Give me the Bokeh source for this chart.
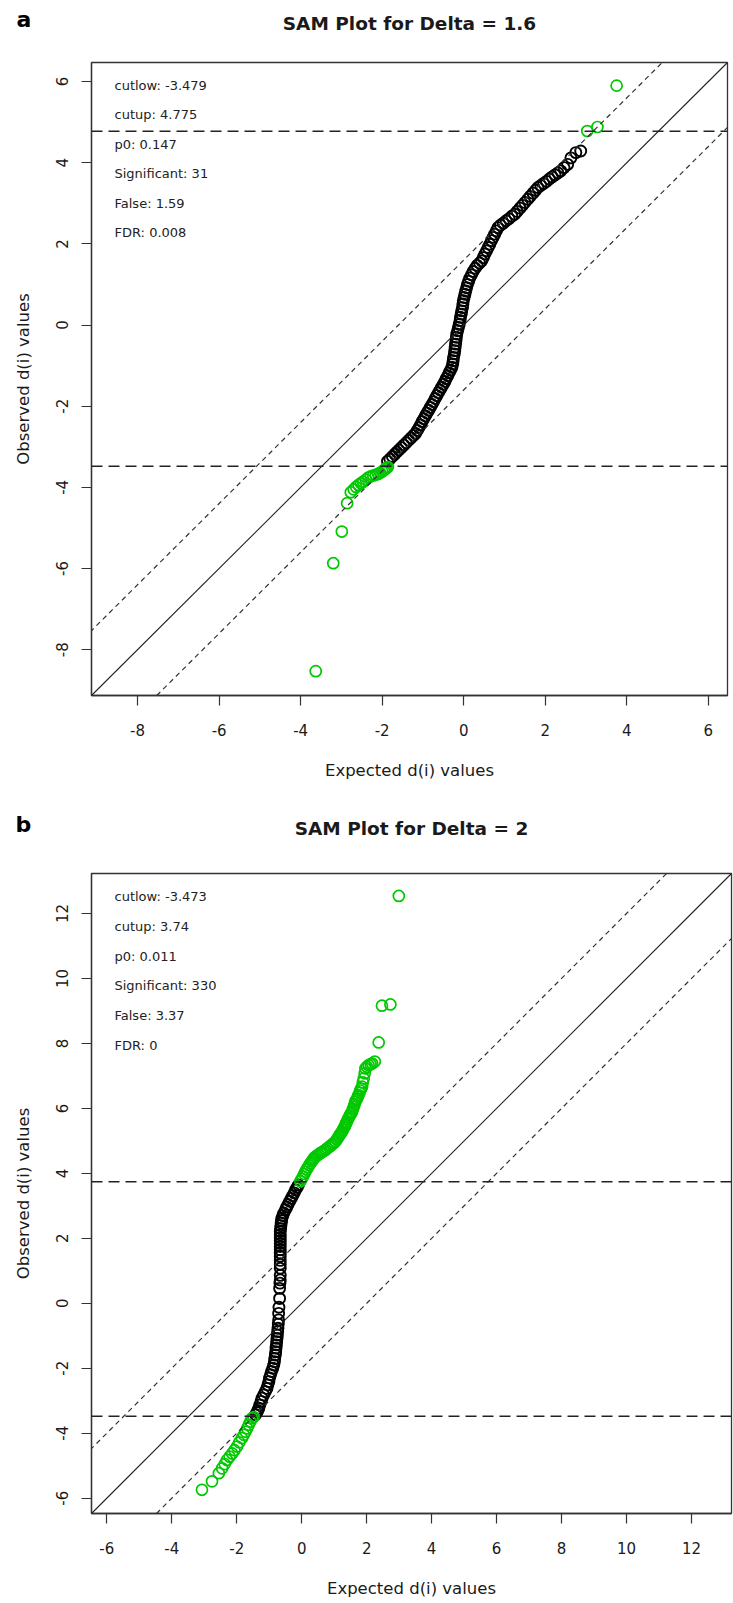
from bokeh.plotting import figure
from bokeh.models import Range1d, FixedTicker, Span, Slope, Label, Title
from bokeh.layouts import column
from bokeh.embed import file_html
from bokeh.resources import INLINE

# ---------------- Panel a data (Delta = 1.6) ----------------
a_black_x = [-1.87, -1.81, -1.75, -1.69, -1.64, -1.59, -1.53, -1.47, -1.41, -1.35, -1.29, -1.23,
             -1.18, -1.14, -1.10, -1.06, -1.02, -0.98, -0.94, -0.90, -0.86, -0.82, -0.78, -0.74,
             -0.70, -0.66, -0.62, -0.58, -0.54, -0.50, -0.46, -0.43, -0.39, -0.36, -0.32, -0.29,
             -0.27, -0.26, -0.25, -0.23, -0.22, -0.21, -0.20, -0.19, -0.18, -0.17, -0.15, -0.13,
             -0.11, -0.09, -0.08, -0.06, -0.05, -0.03, -0.02, -0.01, 0.01, 0.03, 0.05, 0.07,
             0.09, 0.12, 0.15, 0.19, 0.23, 0.28, 0.33, 0.39, 0.44, 0.48, 0.52, 0.56,
             0.60, 0.64, 0.68, 0.72, 0.76, 0.80, 0.84, 0.90, 0.97, 1.04, 1.11, 1.18,
             1.25, 1.31, 1.38, 1.44, 1.50, 1.57, 1.63, 1.70, 1.76, 1.82, 1.89, 1.96,
             2.03, 2.10, 2.17, 2.24, 2.31, 2.38, 2.46, 2.55, 2.63, 2.75, 2.87]
a_black_y = [-3.36, -3.30, -3.24, -3.18, -3.13, -3.08, -3.02, -2.96, -2.90, -2.84, -2.78, -2.72,
             -2.67, -2.60, -2.53, -2.46, -2.38, -2.31, -2.24, -2.17, -2.10, -2.03, -1.96, -1.89,
             -1.81, -1.74, -1.67, -1.60, -1.53, -1.46, -1.39, -1.32, -1.25, -1.18, -1.11, -1.04,
             -0.96, -0.88, -0.80, -0.71, -0.63, -0.55, -0.47, -0.38, -0.30, -0.22, -0.14, -0.06,
             0.02, 0.11, 0.19, 0.27, 0.35, 0.43, 0.52, 0.60, 0.68, 0.76, 0.84, 0.92,
             1.00, 1.08, 1.16, 1.24, 1.32, 1.40, 1.47, 1.53, 1.58, 1.66, 1.75, 1.83,
             1.91, 1.99, 2.08, 2.16, 2.24, 2.32, 2.40, 2.46, 2.51, 2.57, 2.62, 2.68,
             2.73, 2.80, 2.88, 2.95, 3.02, 3.10, 3.17, 3.25, 3.32, 3.39, 3.44, 3.49,
             3.54, 3.60, 3.65, 3.70, 3.75, 3.80, 3.88, 3.96, 4.12, 4.25, 4.29]
a_green_x = [-3.63, -3.20, -2.99, -2.86, -2.77, -2.70, -2.64, -2.58, -2.52, -2.47, -2.40, -2.34,
             -2.28, -2.22, -2.16, -2.10, -2.05, -2.00, -1.96, -1.92, -1.89, -1.86, 3.03, 3.28, 3.75]
a_green_y = [-8.53, -5.87, -5.09, -4.39, -4.12, -4.05, -3.99, -3.94, -3.90, -3.86, -3.81, -3.76,
             -3.73, -3.71, -3.69, -3.67, -3.64, -3.61, -3.58, -3.55, -3.52, -3.50, 4.78, 4.88, 5.90]
a_delta = 1.6
a_cutlow = -3.479
a_cutup = 4.775
a_p0 = "0.147"
a_significant = "31"
a_false = "1.59"
a_fdr = "0.008"
a_ticks = [-8, -6, -4, -2, 0, 2, 4, 6]
a_lim = (-9.13, 6.47)

# ---------------- Panel b data (Delta = 2) ----------------
b_black_x = [-1.42, -1.38, -1.35, -1.32, -1.29, -1.25, -1.22, -1.17, -1.12, -1.07, -1.04, -1.01,
             -0.99, -0.96, -0.93, -0.89, -0.86, -0.84, -0.83, -0.81, -0.80, -0.79, -0.78, -0.77,
             -0.76, -0.75, -0.74, -0.73, -0.72, -0.71, -0.71, -0.70, -0.68, -0.68, -0.67, -0.66,
             -0.66, -0.66, -0.66, -0.66, -0.66, -0.66, -0.66, -0.66, -0.66, -0.66, -0.66, -0.66,
             -0.66, -0.65, -0.64, -0.63, -0.62, -0.61, -0.58, -0.55, -0.50, -0.46, -0.42, -0.37,
             -0.32, -0.28, -0.23, -0.19, -0.14, -0.10]
b_black_y = [-3.43, -3.36, -3.30, -3.23, -3.13, -3.02, -2.92, -2.82, -2.72, -2.62, -2.51, -2.41,
             -2.30, -2.20, -2.10, -2.00, -1.90, -1.80, -1.70, -1.59, -1.49, -1.38, -1.28, -1.18,
             -1.08, -0.98, -0.87, -0.77, -0.64, -0.51, -0.31, -0.12, 0.15, 0.46, 0.62, 0.72,
             0.86, 1.08, 1.20, 1.32, 1.45, 1.55, 1.65, 1.75, 1.84, 1.93, 2.02, 2.11,
             2.21, 2.30, 2.39, 2.47, 2.55, 2.62, 2.70, 2.78, 2.88, 2.96, 3.04, 3.14,
             3.23, 3.31, 3.40, 3.49, 3.57, 3.64]
b_green_x = [-3.07, -2.76, -2.55, -2.45, -2.37, -2.30, -2.22, -2.14, -2.07, -1.99, -1.92, -1.84,
             -1.78, -1.73, -1.68, -1.63, -1.58, -1.53, -1.48,
             -0.04, 0.00, 0.04, 0.08, 0.11, 0.15, 0.19, 0.23, 0.27, 0.31, 0.35, 0.38,
             0.42, 0.47, 0.52, 0.57, 0.62, 0.68, 0.73, 0.79, 0.85, 0.90, 0.95, 1.00,
             1.04, 1.08, 1.12, 1.15, 1.18, 1.21, 1.24, 1.27, 1.30, 1.33, 1.35, 1.37,
             1.39, 1.42, 1.45, 1.48, 1.50, 1.53, 1.55, 1.58, 1.60, 1.63, 1.65, 1.68,
             1.70, 1.73, 1.75, 1.78, 1.80, 1.83, 1.86, 1.88, 1.91, 1.94, 1.96, 2.01,
             2.06, 2.12, 2.17, 2.25, 2.37, 2.47, 2.73, 2.99]
b_green_y = [-5.74, -5.48, -5.23, -5.08, -4.95, -4.82, -4.72, -4.62, -4.52, -4.41, -4.28, -4.15,
             -4.05, -3.95, -3.85, -3.74, -3.64, -3.54, -3.50,
             3.76, 3.83, 3.90, 3.98, 4.05, 4.12, 4.18, 4.25, 4.31, 4.37, 4.42, 4.47,
             4.51, 4.55, 4.58, 4.62, 4.65, 4.69, 4.72, 4.77, 4.82, 4.86, 4.90, 4.94,
             4.98, 5.04, 5.10, 5.15, 5.20, 5.24, 5.28, 5.34, 5.40, 5.45, 5.50, 5.55,
             5.59, 5.66, 5.72, 5.77, 5.82, 5.86, 5.90, 5.98, 6.05, 6.13, 6.21, 6.26,
             6.30, 6.36, 6.41, 6.48, 6.55, 6.61, 6.67, 6.80, 6.92, 7.08, 7.23, 7.28,
             7.33, 7.36, 7.38, 7.44, 8.03, 9.16, 9.20, 12.54]
b_delta = 2
b_cutlow = -3.473
b_cutup = 3.74
b_p0 = "0.011"
b_significant = "330"
b_false = "3.37"
b_fdr = "0"
b_ticks = [-6, -4, -2, 0, 2, 4, 6, 8, 10, 12]
b_lim = (-6.47, 13.23)

GREEN = "#00C800"
FONT = "DejaVu Sans"
INK = "#1a1a1a"


def base_panel(lim, ticks, fw, fh, left, right, top, bottom):
    p = figure(frame_width=fw, frame_height=fh, title=None,
               x_range=Range1d(*lim), y_range=Range1d(*lim),
               output_backend="svg", toolbar_location=None,
               min_border_left=left, min_border_right=right,
               min_border_top=top, min_border_bottom=bottom,
               x_axis_label="Expected d(i) values", y_axis_label="Observed d(i) values",
               background_fill_color="white", border_fill_color="white")
    p.xgrid.visible = False
    p.ygrid.visible = False
    p.outline_line_color = "#333333"
    p.outline_line_width = 1.3
    p.outline_line_alpha = 1.0
    for ax in (p.xaxis[0], p.yaxis[0]):
        ax.ticker = FixedTicker(ticks=ticks)
        ax.major_label_overrides = {t: str(t) for t in ticks}
        ax.axis_line_color = "#333333"
        ax.axis_line_width = 1.3
        ax.major_tick_out = 10
        ax.major_tick_in = 0
        ax.major_tick_line_color = "#333333"
        ax.major_tick_line_width = 1.2
        ax.minor_tick_line_color = None
        ax.major_label_text_font = FONT
        ax.major_label_text_font_size = "15px"
        ax.major_label_text_color = INK
        ax.axis_label_text_font = FONT
        ax.axis_label_text_font_size = "16.5px"
        ax.axis_label_text_font_style = "normal"
        ax.axis_label_text_color = INK
    p.xaxis.major_label_standoff = 18
    p.xaxis.axis_label_standoff = 22
    p.yaxis.major_label_standoff = 13
    p.yaxis.axis_label_standoff = 21
    p.yaxis.major_label_orientation = "parallel"
    return p


def add_content(p, bx, by, gx, gy, delta, cutlow, cutup, p0, sig, false_, fdr, fh, text_x, text_dy):
    p.add_layout(Slope(gradient=1, y_intercept=0, line_color="#222222", line_width=1.1))
    p.add_layout(Slope(gradient=1, y_intercept=delta, line_color="#333333",
                       line_width=1.2, line_dash="5 4"))
    p.add_layout(Slope(gradient=1, y_intercept=-delta, line_color="#333333",
                       line_width=1.2, line_dash="5 4"))
    p.add_layout(Span(location=cutup, dimension="width", line_color="#222222",
                      line_width=1.5, line_dash="11 6"))
    p.add_layout(Span(location=cutlow, dimension="width", line_color="#222222",
                      line_width=1.5, line_dash="11 6"))
    p.scatter(bx, by, marker="circle", size=11, fill_color=None,
              line_color="black", line_width=1.9)
    p.scatter(gx, gy, marker="circle", size=11, fill_color=None,
              line_color=GREEN, line_width=1.7)
    lines = ["cutlow:  %s" % cutlow, "cutup:  %s" % cutup, "p0:  %s" % p0,
             "Significant:  %s" % sig, "False:  %s" % false_, "FDR:  %s" % fdr]
    for i, s in enumerate(lines):
        p.add_layout(Label(x=text_x, y=fh - 23 - i * text_dy, x_units="screen", y_units="screen",
                           text=s, text_font=FONT, text_font_size="13px",
                           text_color="#222222", text_baseline="middle", text_align="left"))


def add_titles(p, title, letter, title_standoff, letter_standoff, letter_offset):
    # inner title: a second (empty) line makes the box tall so the text rides high
    p.add_layout(Title(text=title + "\n", align="center", vertical_align="bottom",
                       text_font=FONT, text_font_size="18.5px", text_font_style="bold",
                       text_color=INK, standoff=title_standoff), "above")
    # outer panel letter: a negative standoff pulls it down beside the title
    p.add_layout(Title(text=letter, align="left", offset=letter_offset, vertical_align="bottom",
                       text_font=FONT, text_font_size="22px", text_font_style="bold",
                       text_color="black", standoff=letter_standoff), "above")


# ---------------- Panel a ----------------
pa = base_panel(a_lim, a_ticks, 636, 633, 90, 7, 62, 95)
add_content(pa, a_black_x, a_black_y, a_green_x, a_green_y, a_delta, a_cutlow, a_cutup,
            a_p0, a_significant, a_false, a_fdr, 633, 23, 29.4)
add_titles(pa, "SAM Plot for Delta = 1.6", "a", 16, -59, -75)

# ---------------- Panel b ----------------
pb = base_panel(b_lim, b_ticks, 640, 640, 91, 2, 83, 90)
add_content(pb, b_black_x, b_black_y, b_green_x, b_green_y, b_delta, b_cutlow, b_cutup,
            b_p0, b_significant, b_false, b_fdr, 640, 23, 29.8)
add_titles(pb, "SAM Plot for Delta = 2", "b", 28, -70, -76)

layout = column(pa, pb, spacing=0)
open("out.html", "w").write(file_html(layout, INLINE))
